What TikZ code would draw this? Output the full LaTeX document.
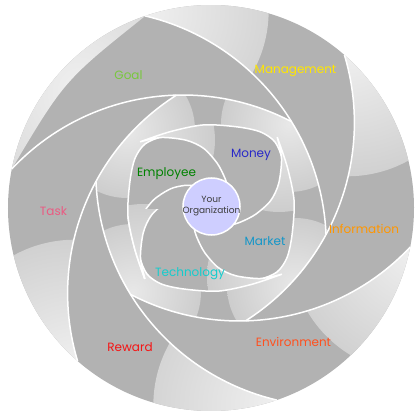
\documentclass[tikz,border=0pt]{standalone}
\usepackage{fontspec}
\setmainfont{Poppins}
\definecolor{bladegray}{RGB}{178,178,178}
\definecolor{bladelight}{RGB}{240,240,240}
\definecolor{innerlight}{RGB}{232,232,232}
\definecolor{crescentgray}{RGB}{212,212,212}
\definecolor{orgfill}{RGB}{206,206,255}
\definecolor{orgtext}{RGB}{60,60,60}
\definecolor{goalgreen}{RGB}{120,200,60}
\definecolor{mgmtyellow}{RGB}{255,230,0}
\definecolor{infoorange}{RGB}{255,150,0}
\definecolor{envorange}{RGB}{255,80,30}
\definecolor{rewardred}{RGB}{245,20,20}
\definecolor{taskpink}{RGB}{235,90,130}
\definecolor{emplgreen}{RGB}{0,130,0}
\definecolor{moneyblue}{RGB}{40,40,200}
\definecolor{marketblue}{RGB}{20,150,200}
\definecolor{techcyan}{RGB}{20,205,205}
\pgfdeclareradialshading{tailglow}{\pgfpoint{0bp}{0bp}}{color(0bp)=(bladelight); color(50bp)=(bladegray)}
\pgfdeclareradialshading{innerglow}{\pgfpoint{0bp}{0bp}}{color(0bp)=(innerlight); color(50bp)=(bladegray)}
\pgfdeclareradialshading{crescentglow}{\pgfpoint{0bp}{0bp}}{color(0bp)=(bladelight); color(50bp)=(crescentgray)}

\begin{document}
\begin{tikzpicture}[x=1pt, y=1pt,
	edge/.style = {draw=white, line width=1.5pt},
	glow/.style = {shading=tailglow},
	lbl/.style = {font=\fontsize{12}{14}\selectfont, inner sep=0pt},
	orgcircle/.style = {circle, fill=orgfill, draw=white, line width=1.5pt, minimum size=57pt, inner sep=-4pt, align=center, text=orgtext, font=\fontsize{9}{11}\selectfont}
	]
	\useasboundingbox (-211,-212) rectangle (209,208);
	
	%Outer blades
	\foreach \k in {0,...,5}{
		\begin{scope}[rotate=-60*\k]
			\clip (108.9:203) arc[start angle=108.9, end angle=168.9, radius=203]
				arc[start angle=136.72, end angle=62.55, radius=235]
				arc[start angle=31.65, end angle=76.7, radius=235] -- cycle;
			\fill[bladegray] (-220,-220) rectangle (220,220);
			\ifnum\k>0 \shade[glow] (168.9:208) circle (125); \fi
		\end{scope}
	}
	\shade[shading=crescentglow] (108.9:203) arc[start angle=108.9, end angle=168.9, radius=203]
		.. controls (-146.4,127.8) .. (108.9:203);
	
	%Inner region
	\begin{scope}
		\clip (107.15:118) arc[start angle=91.66, end angle=62.55, radius=235]
			arc[start angle=31.66, end angle=2.55, radius=235]
			arc[start angle=-28.34, end angle=-57.45, radius=235]
			arc[start angle=-88.34, end angle=-117.45, radius=235]
			arc[start angle=-148.34, end angle=-177.45, radius=235]
			arc[start angle=-208.34, end angle=-237.45, radius=235] -- cycle;
		\fill[bladegray] (-130,-130) rectangle (130,130);
		\foreach \a in {0,-90,-180,-270}
			\shade[shading=innerglow, rotate=\a] (-84,78) circle (68);
	\end{scope}
	
	%Inner blades (Employee, Money, Market, Technology)
	\foreach \a in {90,0,-90,-180}{
		\begin{scope}[rotate=\a]
			\begin{scope}
				\clip plot[smooth] coordinates {(-70.9,66.2) (-40.6,76.4) (-7.3,83.1) (26.4,81.1) (49.4,76.1) (64,66) (71.5,48) (73,26.7) (69.5,8.5) (57.4,-8.1) (40.8,-19.0) (26.8,-22.5) (15.5,-22.1) (6.8,-18.8)}
					-- (0,0) -- plot[smooth] coordinates {(13.8,11.6) (16.7,19.9) (13.9,29.9) (6.3,44.6) (-7.3,59.6) (-24.6,67.7) (-49.3,70.5) (-70.9,66.2)} -- cycle;
				\fill[bladegray] (-130,-130) rectangle (130,130);
				\shade[shading=innerglow] (-74,68) circle (78);
			\end{scope}
			\draw[edge] plot[smooth] coordinates {(-70.9,66.2) (-40.6,76.4) (-7.3,83.1) (26.4,81.1) (49.4,76.1) (64,66) (71.5,48) (73,26.7) (69.5,8.5) (57.4,-8.1) (40.8,-19.0) (26.8,-22.5) (15.5,-22.1) (6.8,-18.8)}
				-- (0,0) -- plot[smooth] coordinates {(13.8,11.6) (16.7,19.9) (13.9,29.9) (6.3,44.6) (-7.3,59.6) (-24.6,67.7) (-49.3,70.5) (-70.9,66.2)};
		\end{scope}
	}
	\begin{scope}
		\clip (-130,-130) rectangle (0,-2);
		\begin{scope}[rotate=90]
			\begin{scope}
				\clip plot[smooth] coordinates {(-70.9,66.2) (-40.6,76.4) (-7.3,83.1) (26.4,81.1) (49.4,76.1) (64,66) (71.5,48)}
					-- (0,0) -- plot[smooth] coordinates {(13.8,11.6) (16.7,19.9) (13.9,29.9) (6.3,44.6) (-7.3,59.6) (-24.6,67.7) (-49.3,70.5) (-70.9,66.2)} -- cycle;
				\fill[bladegray] (-130,-130) rectangle (130,130);
				\shade[shading=innerglow] (-74,68) circle (78);
			\end{scope}
			\draw[edge] plot[smooth] coordinates {(-70.9,66.2) (-40.6,76.4) (-7.3,83.1) (26.4,81.1)};
			\draw[edge] plot[smooth] coordinates {(13.8,11.6) (16.7,19.9) (13.9,29.9) (6.3,44.6) (-7.3,59.6) (-24.6,67.7) (-49.3,70.5) (-70.9,66.2)};
		\end{scope}
	\end{scope}
	
	%Edges
	\foreach \k in {0,...,5}
		\draw[edge, rotate=-60*\k] (168.9:203) arc[start angle=136.72, end angle=62.55, radius=235];
	
	%Nodes
	\node[orgcircle] (org) at (0.5,1.5) {Your\\Organization};
	
	\node[lbl, text=goalgreen]	(goal)	at (-82.5,133)	{Goal};
	\node[lbl, text=mgmtyellow]	(mgmt)	at (84.5,137)	{Management};
	\node[lbl, text=infoorange]	(info)	at (153,-21)	{Information};
	\node[lbl, text=envorange]	(env)	at (82.5,-134)	{Environment};
	\node[lbl, text=rewardred]	(reward)	at (-81,-139)	{Reward};
	\node[lbl, text=taskpink]	(task)	at (-157.5,-3)	{Task};
	
	\node[lbl, text=emplgreen]	(employee)	at (-44.5,34)	{Employee};
	\node[lbl, text=moneyblue]	(money)	at (40,53)	{Money};
	\node[lbl, text=marketblue]	(market)	at (54,-33)	{Market};
	\node[lbl, text=techcyan]	(tech)	at (-21,-66)	{Technology};
	
\end{tikzpicture}
\end{document}
